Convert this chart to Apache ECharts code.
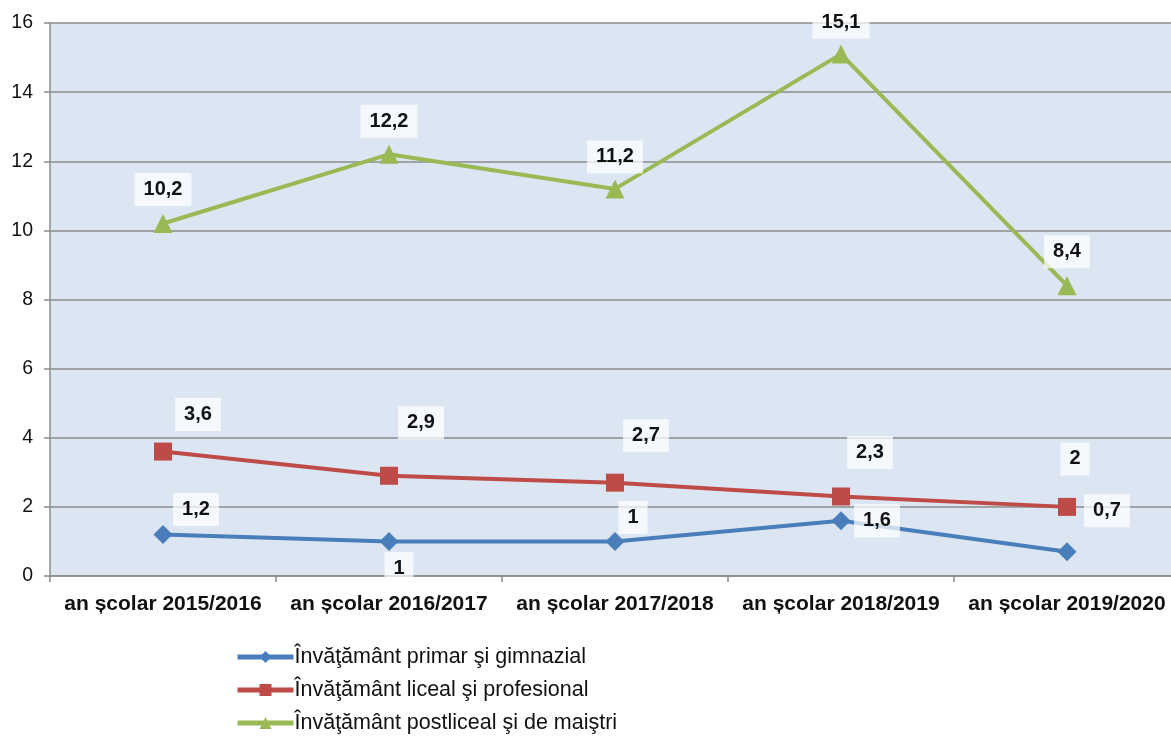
<!DOCTYPE html>
<html>
<head>
<meta charset="utf-8">
<script src="https://cdn.jsdelivr.net/npm/echarts@6/dist/echarts.min.js"></script>
<style>
html,body{margin:0;padding:0;background:#fff}
#main{width:1171px;height:736px}
</style>
</head>
<body>
<div id="main"></div>
<script>
var categories = ['an școlar 2015/2016','an școlar 2016/2017','an școlar 2017/2018','an școlar 2018/2019','an școlar 2019/2020']
var primar = [1.2, 1, 1, 1.6, 0.7]
var liceal = [3.6, 2.9, 2.7, 2.3, 2]
var postliceal = [10.2, 12.2, 11.2, 15.1, 8.4]
var seriesNames = ['Învăţământ primar şi gimnazial','Învăţământ liceal şi profesional','Învăţământ postliceal şi de maiştri']

// label offsets, placed by hand like the original
var primarOff = [[33,-25],[10,27],[18,-24],[36,0],[40,-41]]
var licealOff = [[35,-37],[32,-53],[31,-47],[29,-44],[8,-48]]
var postOff = [[0,-34],[0,-33],[0,-32],[0,-32],[0,-34]]

function fmt(v){ return String(v).replace('.', ',') }

function items(vals, offs){
	return vals.map(function(v,i){
		return { value: v, label: { offset: offs[i] } }
	})
}

var labelStyle = {
	show: true,
	position: 'inside',
	fontFamily: 'Liberation Sans, Arial',
	fontWeight: 'bold',
	fontSize: 20,
	color: '#111',
	backgroundColor: 'rgba(255,255,255,0.72)',
	padding: [7, 9, 6, 9],
	formatter: function(p){ return fmt(p.value) }
}

var chart = echarts.init(document.getElementById('main'))

var option = {
	animation: false,
	textStyle: { fontFamily: 'Liberation Sans, Arial' },
	grid: {
		left: 50,
		top: 23,
		width: 1130,
		bottom: 160,
		outerBoundsMode: 'none',
		containLabel: false,
		show: true,
		backgroundColor: '#dce6f2',
		borderWidth: 0
	},
	legend: {
		orient: 'vertical',
		left: 230,
		top: 641,
		height: 100,
		itemWidth: 56,
		itemHeight: 15,
		itemGap: 11,
		lineStyle: { width: 5 },
		textStyle: { fontSize: 21.5, color: '#111', fontFamily: 'Liberation Sans, Arial', padding: [0,0,0,-4] },
		data: seriesNames
	},
	xAxis: {
		type: 'category',
		data: categories,
		boundaryGap: true,
		axisLine: { lineStyle: { color: '#8c8c8c', width: 1.5 } },
		axisTick: { show: true, length: 6, lineStyle: { color: '#8c8c8c', width: 1.5 } },
		axisLabel: { interval: 0, hideOverlap: false, fontSize: 21, fontWeight: 'bold', color: '#111', margin: 18 }
	},
	yAxis: {
		type: 'value',
		min: 0,
		max: 16,
		interval: 2,
		axisLine: { show: true, lineStyle: { color: '#8c8c8c', width: 1.5 } },
		axisTick: { show: true, length: 6, lineStyle: { color: '#8c8c8c', width: 1.5 } },
		axisLabel: { fontSize: 19.5, color: '#111', margin: 17 },
		splitLine: { show: true, lineStyle: { color: '#8c8c8c', width: 1.5 } }
	},
	series: [
		{
			name: seriesNames[0],
			type: 'line',
			data: items(primar, primarOff),
			symbol: 'diamond',
			symbolSize: 19,
			color: '#4a7ebb',
			lineStyle: { width: 4 },
			label: labelStyle,
			z: 3
		},
		{
			name: seriesNames[1],
			type: 'line',
			data: items(liceal, licealOff),
			symbol: 'rect',
			symbolSize: 18,
			color: '#be4b48',
			lineStyle: { width: 4 },
			label: labelStyle,
			z: 2
		},
		{
			name: seriesNames[2],
			type: 'line',
			data: items(postliceal, postOff),
			symbol: 'triangle',
			symbolSize: 19,
			color: '#98b954',
			lineStyle: { width: 4 },
			label: labelStyle,
			z: 2
		}
	]
}

chart.setOption(option)
</script>
</body>
</html>
